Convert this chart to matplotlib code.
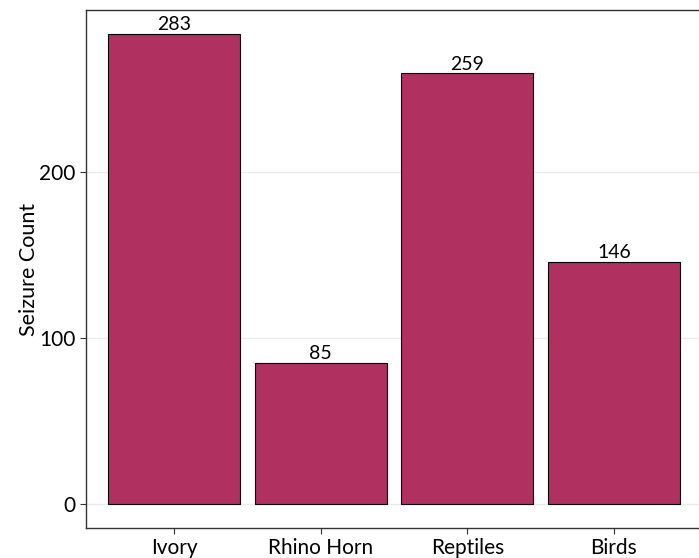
import matplotlib.pyplot as plt

categories = ['Ivory', 'Rhino Horn', 'Reptiles', 'Birds']
counts = [283, 85, 259, 146]
yticks = [0, 100, 200]

plt.rcParams['font.family'] = ['Lato', 'DejaVu Sans']

fig = plt.figure(figsize=(6.99, 5.58), dpi=100)
# panel runs a little past the right edge, as in the reference
ax = fig.add_axes([86 / 699, 1 - 528 / 558, (702 - 86) / 699, (528 - 10) / 558])

x = range(len(categories))
ax.bar(x, counts, width=0.9, color='#B03060', edgecolor='black', linewidth=0.8, zorder=2)

for xi, v in zip(x, counts):
    ax.text(xi, v + 0.5, str(v), ha='center', va='bottom', fontsize=14, color='black')

ax.set_xlim(-0.6, len(categories) - 0.4)
ax.set_ylim(-0.05 * max(counts), 1.05 * max(counts))
ax.set_xticks(list(x))
ax.set_xticklabels(categories, fontsize=15)
ax.set_yticks(yticks)
ax.set_yticklabels([str(t) for t in yticks], fontsize=15)
ax.set_ylabel('Seizure Count', fontsize=15.5, labelpad=0)

ax.yaxis.grid(True, color='#EBEBEB', linewidth=1.0, zorder=0)
ax.xaxis.grid(False)
ax.set_axisbelow(True)
for s in ax.spines.values():
    s.set_color('#333333')
    s.set_linewidth(1.0)
ax.tick_params(axis='both', direction='out', length=4, color='#333333', labelcolor='black')
ax.tick_params(axis='x', pad=3)

fig.savefig('out.png', dpi=100)
